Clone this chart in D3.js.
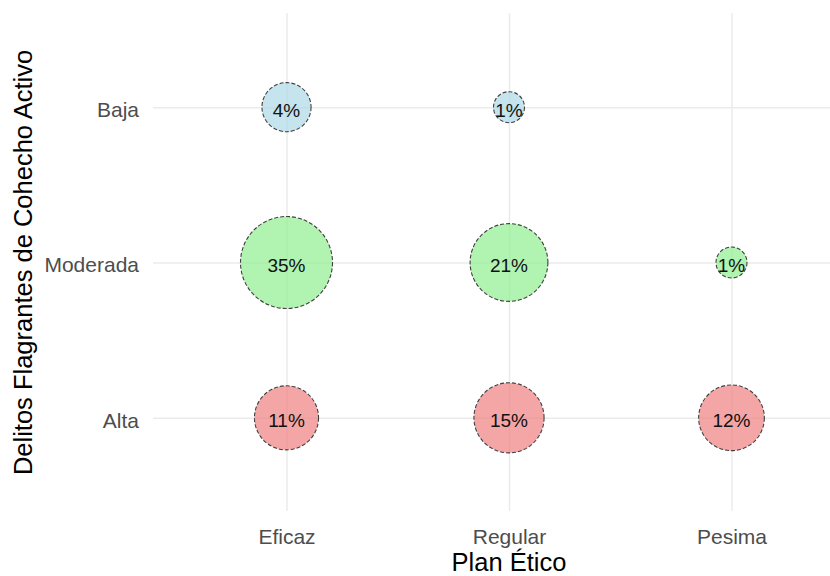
<!DOCTYPE html>
<html>
<head>
<meta charset="utf-8">
<script src="https://cdn.jsdelivr.net/npm/d3@7"></script>
<style>
  body { margin: 0; background: #fff; }
  svg { display: block; font-family: "Liberation Sans", Arial, sans-serif; }
</style>
</head>
<body>
<div id="chart"></div>
<script>
const planLevels = ["Eficaz", "Regular", "Pesima"];
const delitoLevels = ["Baja", "Moderada", "Alta"];

// porcentajes por plan, en el orden de delitoLevels (null = sin dato)
const eficazPct = [4, 35, 11];
const regularPct = [1, 21, 15];
const pesimaPct = [null, 1, 12];

const delitoColors = ["lightblue", "lightgreen", "lightcoral"];

const width = 830,
  height = 576;

const panel = { left: 153, right: 865, top: 14, bottom: 511 };

const rows = [];
[eficazPct, regularPct, pesimaPct].forEach(function (vals, i) {
  vals.forEach(function (v, j) {
    if (v != null) rows.push({ plan: planLevels[i], delito: delitoLevels[j], pct: v });
  });
});

const svg = d3
  .select("#chart")
  .append("svg")
  .attr("width", width)
  .attr("height", height);

const x = d3
  .scalePoint()
  .domain(planLevels)
  .range([panel.left, panel.right])
  .padding(0.6);

const y = d3
  .scalePoint()
  .domain(delitoLevels)
  .range([panel.top, panel.bottom])
  .padding(0.6);

const fill = d3.scaleOrdinal().domain(delitoLevels).range(delitoColors);

// area-style size, like ggplot scale_size(range = ...)
const minR = 15.5,
  maxR = 46;
const pctExtent = d3.extent(rows, (d) => d.pct);
const sizeScale = d3
  .scaleSqrt()
  .domain([0, pctExtent[1] - pctExtent[0]])
  .range([0, maxR - minR]);
const radius = (v) => minR + sizeScale(v - pctExtent[0]);

// grid
const xAxis = svg
  .append("g")
  .attr("transform", `translate(0,${panel.bottom})`)
  .call(d3.axisBottom(x).tickSize(-(panel.bottom - panel.top + 1)).tickPadding(0));

const yAxis = svg
  .append("g")
  .attr("transform", `translate(${panel.left},0)`)
  .call(d3.axisLeft(y).tickSize(-(panel.right - panel.left)).tickPadding(0));

[xAxis, yAxis].forEach(function (ax) {
  ax.select(".domain").remove();
  ax.selectAll(".tick line").attr("stroke", "#ebebeb").attr("stroke-width", 1.5);
  ax.selectAll(".tick text")
    .attr("fill", "#4d4d4d")
    .style("font-size", "21px")
    .style("font-family", "Liberation Sans, Arial, sans-serif");
});

xAxis.selectAll(".tick text").attr("y", 544 - panel.bottom).attr("dy", null);
yAxis
  .selectAll(".tick text")
  .attr("x", 139 - panel.left)
  .attr("dy", "0.45em");

// bubbles
const bubbles = svg
  .append("g")
  .selectAll(".bubble")
  .data(rows)
  .enter()
  .append("g")
  .attr("class", "bubble")
  .attr("transform", (d) => `translate(${x(d.plan)},${y(d.delito)})`);

bubbles
  .append("circle")
  .attr("r", (d) => radius(d.pct))
  .attr("fill", (d) => fill(d.delito))
  .attr("fill-opacity", 0.7)
  .attr("stroke", "#404040")
  .attr("stroke-width", 1.1)
  .attr("stroke-dasharray", "4,2");

bubbles
  .append("text")
  .attr("text-anchor", "middle")
  .attr("dy", "0.5em")
  .attr("fill", "#111")
  .style("font-size", "19px")
  .text((d) => d.pct + "%");

// axis titles
svg
  .append("text")
  .attr("x", (panel.left + panel.right) / 2)
  .attr("y", 571)
  .attr("text-anchor", "middle")
  .attr("fill", "#000")
  .style("font-size", "25.5px")
  .text("Plan Ético");

svg
  .append("text")
  .attr("transform", `translate(32,${(panel.top + panel.bottom) / 2}) rotate(-90)`)
  .attr("text-anchor", "middle")
  .attr("fill", "#000")
  .style("font-size", "25.5px")
  .text("Delitos Flagrantes de Cohecho Activo");
</script>
</body>
</html>
